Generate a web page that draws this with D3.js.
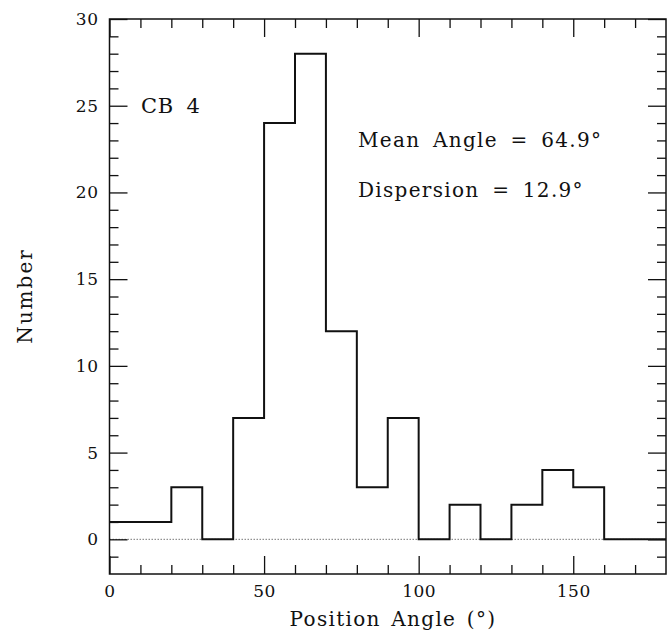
<!DOCTYPE html>
<html><head><meta charset="utf-8">
<script src="https://cdn.jsdelivr.net/npm/d3@7"></script>
<style>
body{margin:0;background:#fff;}
svg{display:block;}
text{font-family:"DejaVu Serif",serif;fill:#111;}
</style></head><body>
<script>
const binStarts = [0,10,20,30,40,50,60,70,80,90,100,110,120,130,140,150,160,170];
const counts = [1,1,3,0,7,24,28,12,3,7,0,2,0,2,4,3,0,0];
const binWidth = 10;
const xMajor = [0,50,100,150];
const xMinor = [10,20,30,40,60,70,80,90,110,120,130,140,160,170];
const yMajor = [0,5,10,15,20,25,30];
const yMinor = [-1,1,2,3,4,6,7,8,9,11,12,13,14,16,17,18,19,21,22,23,24,26,27,28,29];
const annotations = ["Mean Angle = 64.9°","Dispersion = 12.9°"];
const label = "CB 4";

const W=667,H=631;
const L=109.5,R=666,T=19,B=574;
const svg=d3.select("body").append("svg").attr("width",W).attr("height",H);
const x=d3.scaleLinear().domain([0,180]).range([L,R]);
const y=d3.scaleLinear().domain([-2,30]).range([B,T]);

// zero dotted line
svg.append("line").attr("x1",L).attr("x2",R).attr("y1",y(0)).attr("y2",y(0))
  .attr("stroke","#777").attr("stroke-width",1).attr("stroke-dasharray","1.5,1.5");

// axes
function ax(gen, tr, vals, size, labels, pad){
  const a=gen.tickValues(vals).tickSize(-size).tickPadding(pad);
  if(!labels) a.tickFormat("");
  const g=svg.append("g").attr("transform",tr).call(a);
  g.select(".domain").remove();
  g.selectAll("line").attr("stroke","#111").attr("stroke-width",1.3);
  g.selectAll("text").attr("font-size",17).attr("font-family","DejaVu Serif").attr("fill","#111").attr("letter-spacing",0.5);
  return g;
}
ax(d3.axisBottom(x),`translate(0,${B})`,xMajor,18,true,11);
ax(d3.axisBottom(x),`translate(0,${B})`,xMinor,9,false,0);
ax(d3.axisTop(x),`translate(0,${T})`,xMajor,18,false,0);
ax(d3.axisTop(x),`translate(0,${T})`,xMinor,9,false,0);
ax(d3.axisLeft(y),`translate(${L},0)`,yMajor,18,true,11);
ax(d3.axisLeft(y),`translate(${L},0)`,yMinor,9,false,0);
ax(d3.axisRight(y),`translate(${R},0)`,yMajor,18,false,0);
ax(d3.axisRight(y),`translate(${R},0)`,yMinor,9,false,0);

// frame
svg.append("rect").attr("x",L).attr("y",T).attr("width",R-L).attr("height",B-T)
  .attr("fill","none").attr("stroke","#111").attr("stroke-width",1.5);

// histogram step
const pts=[];
binStarts.forEach((s,i)=>{pts.push([s,counts[i]]);pts.push([s+binWidth,counts[i]]);});
svg.append("path").datum(pts)
  .attr("d",d3.line().x(d=>x(d[0])).y(d=>y(d[1])))
  .attr("fill","none").attr("stroke","#111").attr("stroke-width",2);

// text
svg.append("text").attr("x",141).attr("y",113).attr("font-size",21).attr("letter-spacing",0.8).attr("word-spacing",5).text(label);
svg.append("text").attr("x",358).attr("y",147).attr("font-size",20).attr("letter-spacing",1.3).attr("word-spacing",5).text(annotations[0]);
svg.append("text").attr("x",358).attr("y",197).attr("font-size",20).attr("letter-spacing",1.3).attr("word-spacing",5).text(annotations[1]);
svg.append("text").attr("x",393).attr("y",626).attr("text-anchor","middle").attr("font-size",20).attr("letter-spacing",1.3).attr("word-spacing",3).text("Position Angle (°)");
svg.append("text").attr("transform",`translate(32,296) rotate(-90)`).attr("text-anchor","middle").attr("font-size",20).attr("letter-spacing",2).text("Number");
</script></body></html>
